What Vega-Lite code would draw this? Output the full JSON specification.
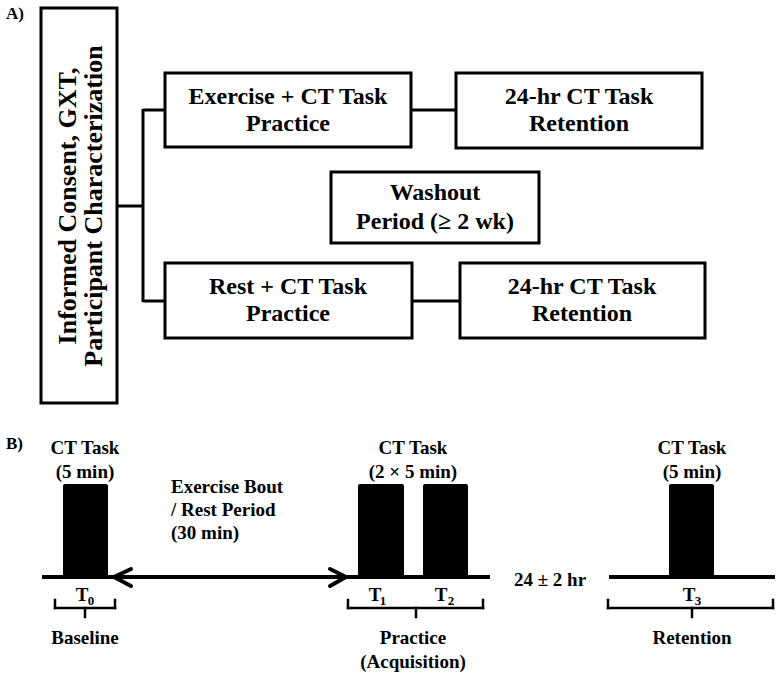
{
  "$schema": "https://vega.github.io/schema/vega-lite/v6.json",
  "width": 779,
  "height": 675,
  "padding": 0,
  "autosize": "none",
  "background": "white",
  "config": {
    "view": {"stroke": null},
    "text": {"font": "Liberation Serif", "fontWeight": "bold", "color": "black"}
  },
  "datasets": {
    "segs": [
      {"kind": "conn", "x": 117, "y": 206, "x2": 143, "y2": 206},
      {"kind": "conn", "x": 143, "y": 109, "x2": 143, "y2": 302},
      {"kind": "conn", "x": 143, "y": 110, "x2": 165, "y2": 110},
      {"kind": "conn", "x": 143, "y": 301, "x2": 165, "y2": 301},
      {"kind": "conn", "x": 411, "y": 110, "x2": 456, "y2": 110},
      {"kind": "conn", "x": 412, "y": 301, "x2": 460, "y2": 301},
      {"kind": "axis", "x": 42, "y": 577, "x2": 490, "y2": 577},
      {"kind": "axis", "x": 609, "y": 577, "x2": 775, "y2": 577},
      {"kind": "arrow", "x": 114, "y": 577, "x2": 131, "y2": 569},
      {"kind": "arrow", "x": 114, "y": 577, "x2": 131, "y2": 586},
      {"kind": "arrow", "x": 346, "y": 577, "x2": 330, "y2": 569},
      {"kind": "arrow", "x": 346, "y": 577, "x2": 330, "y2": 586},
      {"kind": "brace", "x": 55, "y": 600, "x2": 55, "y2": 608},
      {"kind": "brace", "x": 55, "y": 608, "x2": 115, "y2": 608},
      {"kind": "brace", "x": 115, "y": 600, "x2": 115, "y2": 608},
      {"kind": "brace", "x": 85, "y": 608, "x2": 85, "y2": 617},
      {"kind": "brace", "x": 348, "y": 600, "x2": 348, "y2": 608},
      {"kind": "brace", "x": 348, "y": 608, "x2": 483, "y2": 608},
      {"kind": "brace", "x": 483, "y": 600, "x2": 483, "y2": 608},
      {"kind": "brace", "x": 416, "y": 608, "x2": 416, "y2": 617},
      {"kind": "brace", "x": 608, "y": 600, "x2": 608, "y2": 608},
      {"kind": "brace", "x": 608, "y": 608, "x2": 773, "y2": 608},
      {"kind": "brace", "x": 773, "y": 600, "x2": 773, "y2": 608},
      {"kind": "brace", "x": 692, "y": 608, "x2": 692, "y2": 617}
    ],
    "boxes": [
      {"box": "Screening", "x": 41, "x2": 117, "y": 8, "y2": 403},
      {"box": "Exercise practice", "x": 165, "x2": 411, "y": 73, "y2": 147},
      {"box": "Exercise retention", "x": 456, "x2": 702, "y": 73, "y2": 148},
      {"box": "Washout", "x": 331, "x2": 539, "y": 172, "y2": 243},
      {"box": "Rest practice", "x": 165, "x2": 412, "y": 263, "y2": 338},
      {"box": "Rest retention", "x": 460, "x2": 705, "y": 263, "y2": 338}
    ],
    "bars": [
      {"task": "T0", "x": 63, "x2": 108, "y": 484, "y2": 577},
      {"task": "T1", "x": 358, "x2": 404, "y": 484, "y2": 577},
      {"task": "T2", "x": 423, "x2": 468, "y": 484, "y2": 577},
      {"task": "T3", "x": 669, "x2": 714, "y": 484, "y2": 577}
    ],
    "labels": [
      {"kind": "panel", "text": "A)", "x": 6, "y": 14},
      {"kind": "panel", "text": "B)", "x": 6, "y": 444},
      {"kind": "box", "text": "Exercise + CT Task", "x": 288, "y": 97},
      {"kind": "box", "text": "Practice", "x": 288, "y": 124},
      {"kind": "box", "text": "24-hr CT Task", "x": 579, "y": 97},
      {"kind": "box", "text": "Retention", "x": 579, "y": 124},
      {"kind": "box", "text": "Washout", "x": 435, "y": 193},
      {"kind": "box", "text": "Period (≥ 2 wk)", "x": 435, "y": 222},
      {"kind": "box", "text": "Rest + CT Task", "x": 288, "y": 287},
      {"kind": "box", "text": "Practice", "x": 288, "y": 314},
      {"kind": "box", "text": "24-hr CT Task", "x": 582, "y": 287},
      {"kind": "box", "text": "Retention", "x": 582, "y": 314},
      {"kind": "vert", "text": "Informed Consent, GXT,", "x": 68, "y": 206},
      {"kind": "vert", "text": "Participant Characterization", "x": 94, "y": 206},
      {"kind": "b", "text": "CT Task", "x": 85, "y": 448},
      {"kind": "b", "text": "(5 min)", "x": 85, "y": 472},
      {"kind": "b", "text": "CT Task", "x": 413, "y": 448},
      {"kind": "b", "text": "(2 × 5 min)", "x": 413, "y": 472},
      {"kind": "b", "text": "CT Task", "x": 692, "y": 448},
      {"kind": "b", "text": "(5 min)", "x": 692, "y": 472},
      {"kind": "b", "text": "24 ± 2 hr", "x": 550, "y": 580},
      {"kind": "b", "text": "Baseline", "x": 85, "y": 638},
      {"kind": "b", "text": "Practice", "x": 413, "y": 638},
      {"kind": "b", "text": "(Acquisition)", "x": 413, "y": 662},
      {"kind": "b", "text": "Retention", "x": 692, "y": 638},
      {"kind": "bleft", "text": "Exercise Bout", "x": 171, "y": 487},
      {"kind": "bleft", "text": "/ Rest Period", "x": 171, "y": 510},
      {"kind": "bleft", "text": "(30 min)", "x": 171, "y": 533},
      {"kind": "T", "text": "T", "x": 82, "y": 595},
      {"kind": "T", "text": "T", "x": 375, "y": 595},
      {"kind": "T", "text": "T", "x": 441, "y": 595},
      {"kind": "T", "text": "T", "x": 689, "y": 595},
      {"kind": "sub", "text": "0", "x": 91, "y": 601},
      {"kind": "sub", "text": "1", "x": 383, "y": 601},
      {"kind": "sub", "text": "2", "x": 451, "y": 601},
      {"kind": "sub", "text": "3", "x": 698, "y": 601}
    ]
  },
  "encoding": {
    "x": {"field": "x", "type": "quantitative", "scale": {"domain": [0, 779], "nice": false, "zero": false}, "axis": null},
    "y": {"field": "y", "type": "quantitative", "scale": {"domain": [0, 675], "nice": false, "zero": false, "reverse": true}, "axis": null}
  },
  "layer": [
    {
      "data": {"name": "segs"},
      "transform": [{"filter": "datum.kind === 'conn'"}],
      "mark": {"type": "rule", "color": "black", "strokeWidth": 3},
      "encoding": {"x2": {"field": "x2"}, "y2": {"field": "y2"}}
    },
    {
      "data": {"name": "segs"},
      "transform": [{"filter": "datum.kind === 'axis'"}],
      "mark": {"type": "rule", "color": "black", "strokeWidth": 4},
      "encoding": {"x2": {"field": "x2"}, "y2": {"field": "y2"}}
    },
    {
      "data": {"name": "segs"},
      "transform": [{"filter": "datum.kind === 'arrow'"}],
      "mark": {"type": "rule", "color": "black", "strokeWidth": 4, "strokeCap": "round"},
      "encoding": {"x2": {"field": "x2"}, "y2": {"field": "y2"}}
    },
    {
      "data": {"name": "segs"},
      "transform": [{"filter": "datum.kind === 'brace'"}],
      "mark": {"type": "rule", "color": "black", "strokeWidth": 2.5, "strokeCap": "square"},
      "encoding": {"x2": {"field": "x2"}, "y2": {"field": "y2"}}
    },
    {
      "data": {"name": "boxes"},
      "mark": {"type": "rect", "fill": "white", "stroke": "black", "strokeWidth": 3},
      "encoding": {"x2": {"field": "x2"}, "y2": {"field": "y2"}}
    },
    {
      "data": {"name": "bars"},
      "mark": {"type": "rect", "fill": "black", "cornerRadius": 2},
      "encoding": {"x2": {"field": "x2"}, "y2": {"field": "y2"}}
    },
    {
      "data": {"name": "labels"},
      "transform": [{"filter": "datum.kind === 'panel'"}],
      "mark": {"type": "text", "fontSize": 17, "align": "left", "baseline": "middle"},
      "encoding": {"text": {"field": "text"}}
    },
    {
      "data": {"name": "labels"},
      "transform": [{"filter": "datum.kind === 'box'"}],
      "mark": {"type": "text", "fontSize": 24, "align": "center", "baseline": "middle"},
      "encoding": {"text": {"field": "text"}}
    },
    {
      "data": {"name": "labels"},
      "transform": [{"filter": "datum.kind === 'vert'"}],
      "mark": {"type": "text", "fontSize": 26, "align": "center", "baseline": "middle", "angle": 270},
      "encoding": {"text": {"field": "text"}}
    },
    {
      "data": {"name": "labels"},
      "transform": [{"filter": "datum.kind === 'b' || datum.kind === 'T'"}],
      "mark": {"type": "text", "fontSize": 19, "align": "center", "baseline": "middle"},
      "encoding": {"text": {"field": "text"}}
    },
    {
      "data": {"name": "labels"},
      "transform": [{"filter": "datum.kind === 'bleft'"}],
      "mark": {"type": "text", "fontSize": 19, "align": "left", "baseline": "middle"},
      "encoding": {"text": {"field": "text"}}
    },
    {
      "data": {"name": "labels"},
      "transform": [{"filter": "datum.kind === 'sub'"}],
      "mark": {"type": "text", "fontSize": 13, "align": "center", "baseline": "middle"},
      "encoding": {"text": {"field": "text"}}
    }
  ]
}
